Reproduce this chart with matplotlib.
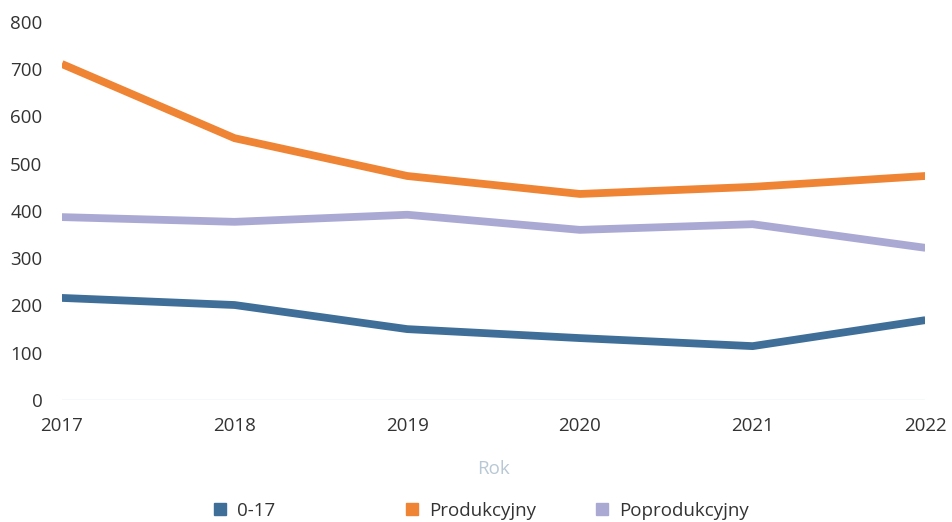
import matplotlib
matplotlib.use("Agg")
import matplotlib.pyplot as plt
from matplotlib.lines import Line2D

plt.rcParams['font.family'] = ['Open Sans', 'DejaVu Sans']

years = [2017, 2018, 2019, 2020, 2021, 2022]
series_names = ["0-17", "Produkcyjny", "Poprodukcyjny"]
v_0_17 = [216, 201, 150, 131, 114, 169]
v_prod = [711, 554, 474, 436, 451, 474]
v_poprod = [387, 377, 392, 360, 372, 322]
colors = ["#3f6f98", "#ee8434", "#aaa9d4"]
yticks = [0, 100, 200, 300, 400, 500, 600, 700, 800]

fig = plt.figure(figsize=(9.52, 5.22), dpi=100)
ax = fig.add_axes([0.065, 0.2337, 0.907, 0.7243])

for vals, c, name in zip([v_0_17, v_prod, v_poprod], colors, series_names):
    ax.plot(years, vals, color=c, lw=5.6, solid_capstyle='butt', solid_joinstyle='round', label=name)

ax.set_xlim(years[0], years[-1])
ax.set_ylim(0, 800)
ax.set_yticks(yticks)
ax.set_xticks(years)
ax.set_xticklabels([str(y) for y in years])
for s in ax.spines.values():
    s.set_visible(False)
ax.axhline(0, color="#cfe3ea", lw=1, zorder=0)
ax.tick_params(axis='both', length=0, labelsize=13.5, colors="#333333")
ax.tick_params(axis='y', pad=14)
ax.tick_params(axis='x', pad=12)
ax.set_xlabel("Rok", fontsize=13.5, color="#b8c8d4", labelpad=18)

xpos = [0.213, 0.415, 0.615]
for name, c, x in zip(series_names, colors, xpos):
    h = Line2D([], [], marker='s', color='none', markerfacecolor=c, markeredgecolor=c, markersize=8)
    fig.legend([h], [name], loc='center left', bbox_to_anchor=(x, 0.022), frameon=False,
               fontsize=13.5, handlelength=1.0, handletextpad=0.4, labelcolor="#333333", borderaxespad=0)

fig.savefig("out.png", dpi=100)
